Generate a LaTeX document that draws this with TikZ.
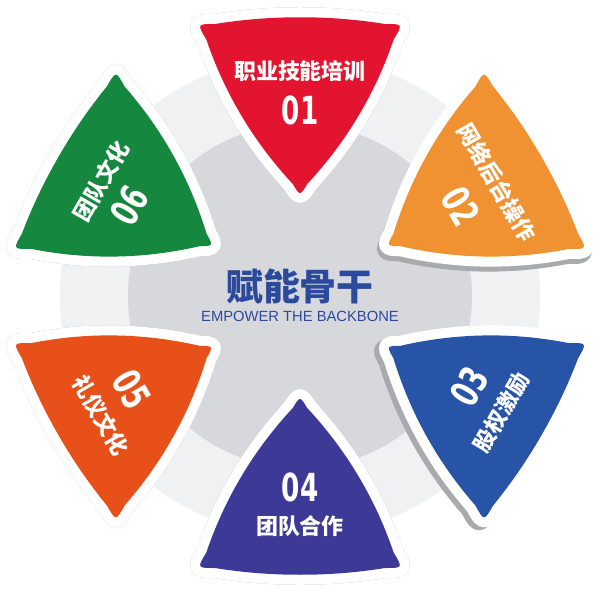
\documentclass[tikz,border=0pt]{standalone}
\usepackage{fontspec}
\setmainfont{Liberation Sans}
\newfontfamily\cjk{Noto Sans CJK SC}
\newfontfamily\numfont[FakeStretch=0.68]{DejaVu Sans}
\usetikzlibrary{calc}

\definecolor{redpetal}{RGB}{226,20,48}
\definecolor{orangepetal}{RGB}{240,146,50}
\definecolor{bluepetal}{RGB}{40,84,168}
\definecolor{purplepetal}{RGB}{60,58,150}
\definecolor{firepetal}{RGB}{232,80,26}
\definecolor{greenpetal}{RGB}{22,135,62}
\definecolor{geargray}{RGB}{214,216,220}
\definecolor{ringgray}{RGB}{240,241,243}
\definecolor{shadowgray}{RGB}{168,170,174}
\definecolor{textblue}{RGB}{44,74,156}

\tikzset{
  petalshape/.style={insert path={(-7.2,112) .. controls (-46.3,154) and (-75.2,202.2) .. (-93.7,256.6)
    .. controls (-103,272) .. (-85,272) .. controls (-30,281) and (30,281) .. (85,272)
    .. controls (103,272) .. (93.7,256.6) .. controls (75.2,202.2) and (46.3,154) .. (7.2,112)
    .. controls (0,100) .. (-7.2,112) -- cycle}},
  rim/.style={line width=11.4pt, line join=round},
  title/.style={text=white, inner sep=1pt, font=\cjk\bfseries\fontsize{12.5}{12.5}\selectfont},
  number/.style={text=white, inner sep=1pt, font=\numfont\bfseries\fontsize{22}{22}\selectfont}
}

\begin{document}
\begin{tikzpicture}[x=0.02cm, y=0.02cm]
\fill[white] (-300,-297) rectangle (300,296);
\useasboundingbox (-300,-297) rectangle (300,296);
% back discs
\fill[ringgray] (0,0) circle (240);
\fill[geargray] (0,0) circle (172);
% petals
\foreach \ang/\col/\dx/\dy in {90/redpetal/0/0, 30/orangepetal/-2/-5, -30/bluepetal/-5/-3,
    -90/purplepetal/0/0, 210/firepetal/0/0, 150/greenpetal/0/0} {
  \begin{scope}[shift={(\dx,\dy)}, rotate=\ang-90]
    \draw[shadowgray, rim, petalshape];
  \end{scope}
  \begin{scope}[rotate=\ang-90]
    \draw[white, rim, petalshape];
    \fill[\col, petalshape];
  \end{scope}
}
% labels
\node[title] (t1) at (90:225) {职业技能培训};
\node[number] (n1) at (90:186) {01};
\node[title, rotate=-60] (t2) at (30:227) {网络后台操作};
\node[number, rotate=-60] (n2) at (29:184) {02};
\node[title, rotate=60] (t3) at (-30:232) {股权激励};
\node[number, rotate=60] (n3) at (-28:192) {03};
\node[title] (t4) at (-90:230) {团队合作};
\node[number] (n4) at (-90:191) {04};
\node[title, rotate=-60] (t5) at (211:232) {礼仪文化};
\node[number, rotate=-60] (n5) at (209:192) {05};
\node[title, rotate=60] (t6) at (150:230) {团队文化};
\node[number, rotate=60] (n6) at (152:193) {06};
% centre
\node[text=textblue, font=\cjk\bfseries\fontsize{21}{21}\selectfont] (core) at (0,10) {赋能骨干};
\node[text=textblue, font=\fontsize{8.4}{8.4}\selectfont] (sub) at (0,-20) {EMPOWER THE BACKBONE};
\end{tikzpicture}
\end{document}
